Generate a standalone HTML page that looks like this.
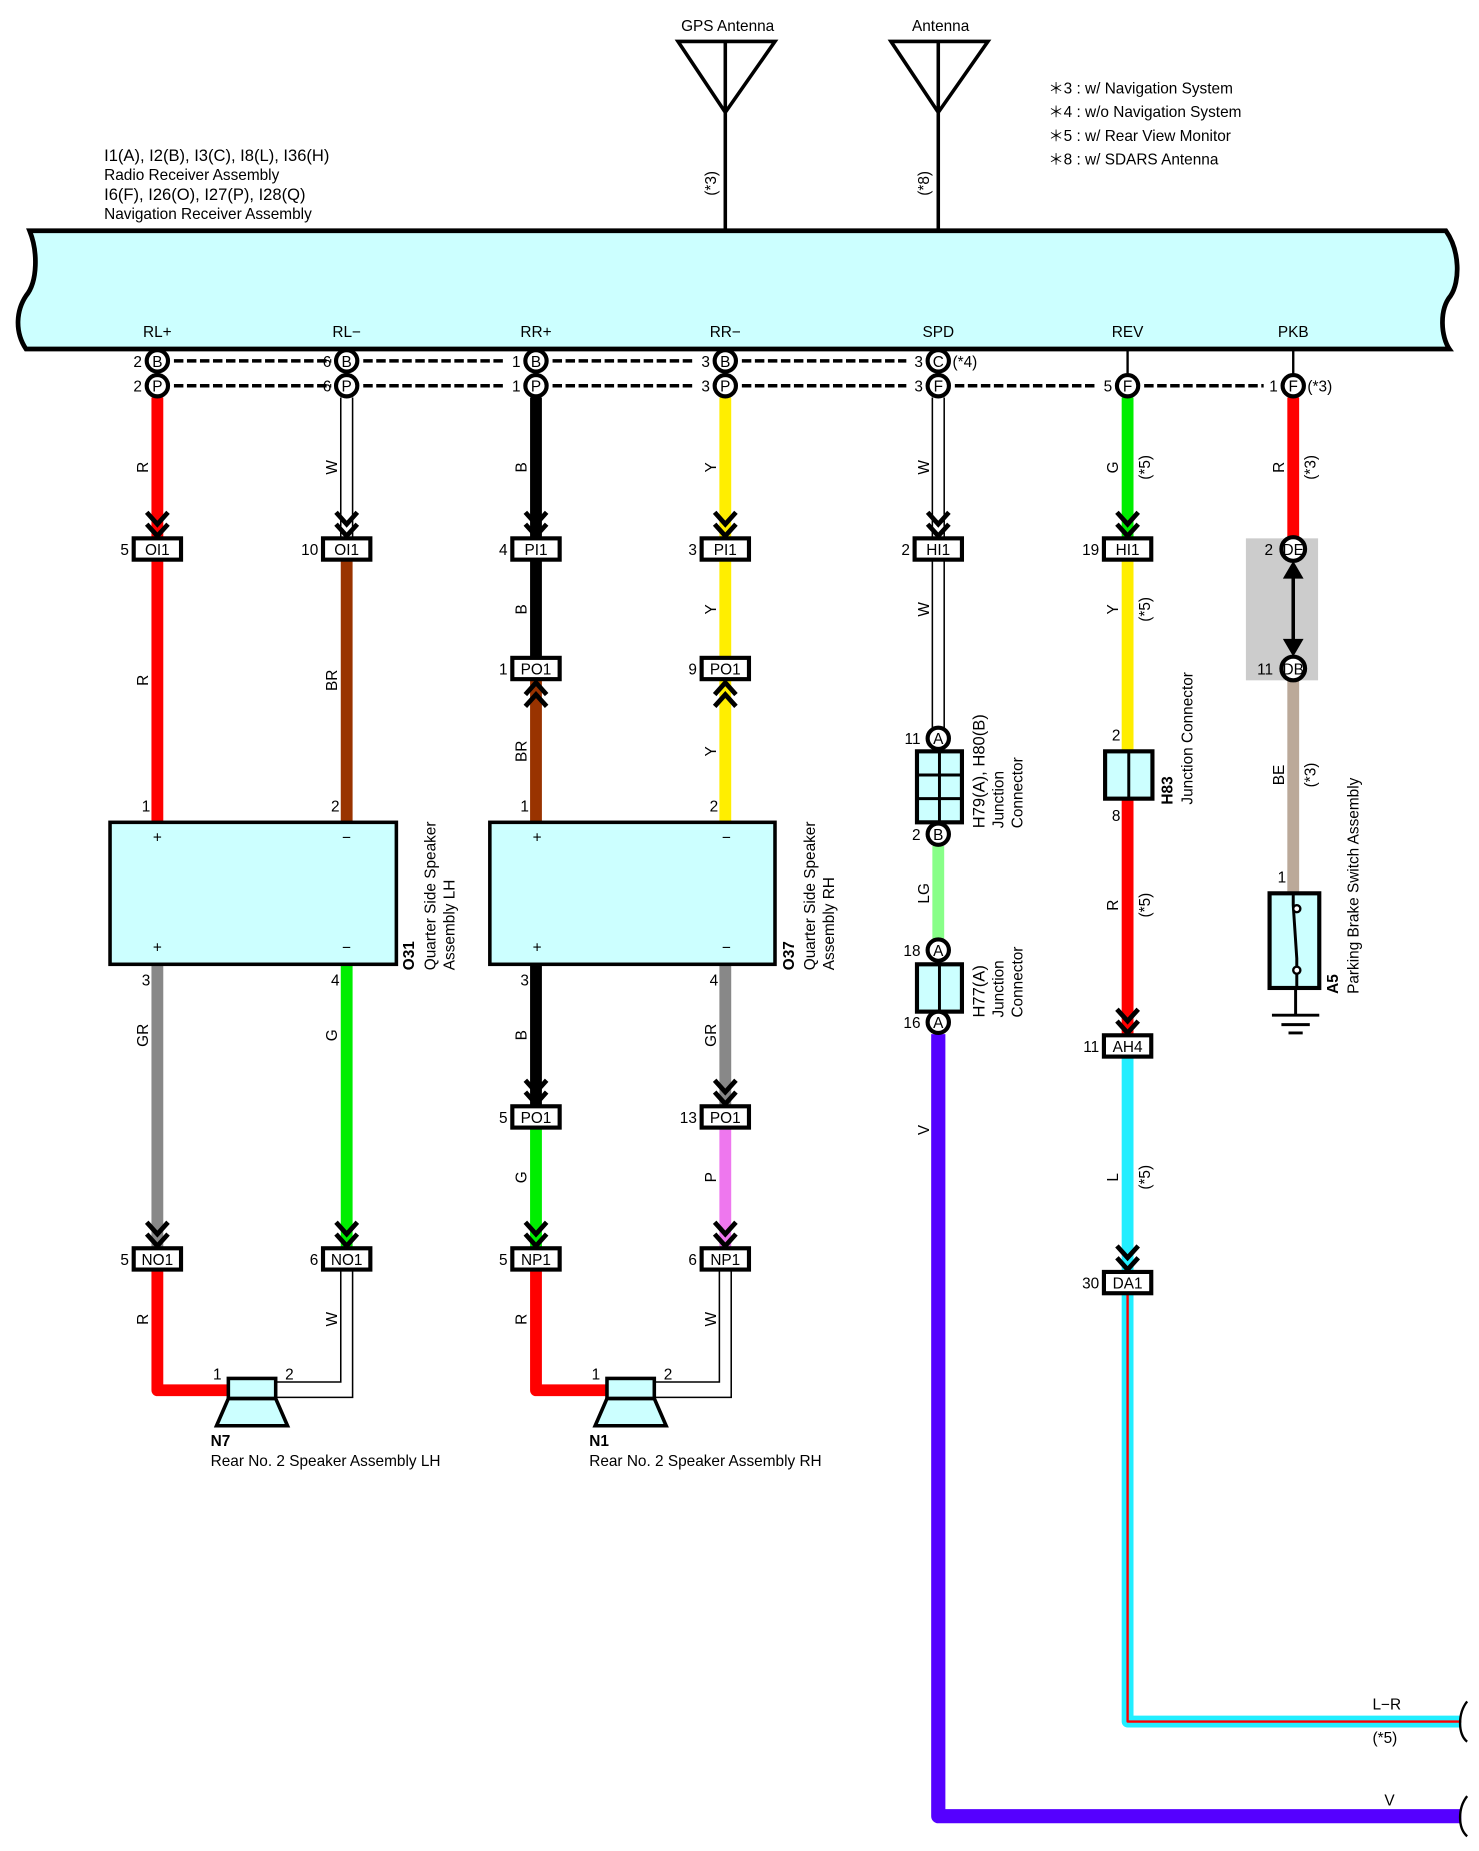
<!DOCTYPE html>
<html><head><meta charset="utf-8"><style>
html,body{margin:0;padding:0;background:#fff}
svg{display:block}
text{font-family:"Liberation Sans",sans-serif;font-size:13px;fill:#000}
.b{font-weight:bold}
.c{text-anchor:middle}
.e{text-anchor:end}
</style></head><body>
<svg width="1479" height="1851" viewBox="0 0 1250 1564.4" xmlns="http://www.w3.org/2000/svg">
<g fill="none" stroke="#000" stroke-width="3">
<path d="M573,35 H655 L613,95 Z M613,35 V195"/>
<path d="M753,35 H835 L793,95 Z M793,35 V195"/>
</g>
<text x="615" y="26" class="c">GPS Antenna</text>
<text x="795" y="26" class="c">Antenna</text>
<text transform="translate(605,155) rotate(-90)" class="c">(*3)</text>
<text transform="translate(785,155) rotate(-90)" class="c">(*8)</text>
<text x="886" y="79">＊3 : w/ Navigation System</text>
<text x="886" y="99">＊4 : w/o Navigation System</text>
<text x="886" y="119">＊5 : w/ Rear View Monitor</text>
<text x="886" y="139">＊8 : w/ SDARS Antenna</text>
<text x="88" y="136" style="font-size:14px">I1(A), I2(B), I3(C), I8(L), I36(H)</text>
<text x="88" y="152">Radio Receiver Assembly</text>
<text x="88" y="169" style="font-size:14px">I6(F), I26(O), I27(P), I28(Q)</text>
<text x="88" y="185">Navigation Receiver Assembly</text>
<path d="M25,195 L1222,195 C1234,212 1234,238 1226,250 C1216,262 1218,285 1225,295 L22,295 C12,280 14,262 22,250 C32,238 32,212 25,195 Z" fill="#ccffff" stroke="#000" stroke-width="4"/>
<text x="133" y="285" class="c">RL+</text><text x="293" y="285" class="c">RL−</text>
<text x="453" y="285" class="c">RR+</text><text x="613" y="285" class="c">RR−</text>
<text x="793" y="285" class="c">SPD</text><text x="953" y="285" class="c">REV</text>
<text x="1093" y="285" class="c">PKB</text>
<g stroke="#000" stroke-width="3" stroke-dasharray="8,3">
<path d="M147,305H280M307,305H427M467,305H588M627,305H766"/>
<path d="M147,326H280M307,326H427M467,326H588M627,326H766M807,326H928M967,326H1068"/>
</g>
<path d="M953,295V317M1093,295V317" stroke="#000" stroke-width="2"/>
<g fill="none" stroke-width="10" stroke-linejoin="round">
<path d="M133,336V455M133,474V695" stroke="#ff0000"/>
<path d="M133,815V1055" stroke="#888"/>
<path d="M133,1074V1175H193" stroke="#ff0000"/>
<path d="M293,474V695" stroke="#993300"/>
<path d="M293,815V1055" stroke="#00ee00"/>
<path d="M453,336V455M453,474V556M453,815V935" stroke="#000"/>
<path d="M453,574V695" stroke="#993300"/>
<path d="M453,954V1055" stroke="#00ee00"/>
<path d="M453,1074V1175H513" stroke="#ff0000"/>
<path d="M613,336V455M613,474V556M613,574V695" stroke="#ffee00"/>
<path d="M613,815V935" stroke="#888"/>
<path d="M613,954V1055" stroke="#ee77ee"/>
<path d="M793,715V795" stroke="#88ff88"/>
<path d="M793,874V1535H1235" stroke="#5500ff" stroke-width="12"/>
<path d="M953,336V455" stroke="#00ee00"/>
<path d="M953,474V635" stroke="#ffee00"/>
<path d="M953,675V875" stroke="#ff0000"/>
<path d="M953,894V1075" stroke="#22eeff"/>
<path d="M953,1094V1455H1235" stroke="#22eeff"/>
<path d="M953,1094V1455H1235" stroke="#ff0000" stroke-width="2"/>
<path d="M1093,336V455" stroke="#ff0000"/>
<path d="M1093,575V755" stroke="#bba999"/>
</g>
<g fill="none" stroke="#000" stroke-width="1.3">
<path d="M288,336V455M298,336V455"/>
<path d="M788,336V455M798,336V455M788,474V615M798,474V615"/>
<path d="M288,1074V1168H233M298,1074V1181H233"/>
<path d="M608,1074V1168H553M618,1074V1181H553"/>
</g>
<g fill="none" stroke="#000" stroke-width="4">
<path d="M124,433L133,443L142,433M124,443L133,453L142,443"/>
<path d="M284,433L293,443L302,433M284,443L293,453L302,443"/>
<path d="M444,433L453,443L462,433M444,443L453,453L462,443"/>
<path d="M604,433L613,443L622,433M604,443L613,453L622,443"/>
<path d="M784,433L793,443L802,433M784,443L793,453L802,443"/>
<path d="M944,433L953,443L962,433M944,443L953,453L962,443"/>
<path d="M124,1033L133,1043L142,1033M124,1043L133,1053L142,1043"/>
<path d="M284,1033L293,1043L302,1033M284,1043L293,1053L302,1043"/>
<path d="M444,1033L453,1043L462,1033M444,1043L453,1053L462,1043"/>
<path d="M604,1033L613,1043L622,1033M604,1043L613,1053L622,1043"/>
<path d="M444,913L453,923L462,913M444,923L453,933L462,923"/>
<path d="M604,913L613,923L622,913M604,923L613,933L622,923"/>
<path d="M944,853L953,863L962,853M944,863L953,873L962,863"/>
<path d="M944,1053L953,1063L962,1053M944,1063L953,1073L962,1063"/>
<path d="M444,587L453,577L462,587M444,597L453,587L462,597"/>
<path d="M604,587L613,577L622,587M604,597L613,587L622,597"/>
</g>
<g fill="#fff" stroke="#000" stroke-width="3.5">
<circle cx="133" cy="305" r="9"/><circle cx="133" cy="326" r="9"/>
<circle cx="293" cy="305" r="9"/><circle cx="293" cy="326" r="9"/>
<circle cx="453" cy="305" r="9"/><circle cx="453" cy="326" r="9"/>
<circle cx="613" cy="305" r="9"/><circle cx="613" cy="326" r="9"/>
<circle cx="793" cy="305" r="9"/><circle cx="793" cy="326" r="9"/>
<circle cx="953" cy="326" r="9"/><circle cx="1093" cy="326" r="9"/>
</g>
<g style="font-size:12px">
<text x="133" y="310" class="c">B</text><text x="133" y="331" class="c">P</text>
<text x="293" y="310" class="c">B</text><text x="293" y="331" class="c">P</text>
<text x="453" y="310" class="c">B</text><text x="453" y="331" class="c">P</text>
<text x="613" y="310" class="c">B</text><text x="613" y="331" class="c">P</text>
<text x="793" y="310" class="c">C</text><text x="793" y="331" class="c">F</text>
<text x="953" y="331" class="c">F</text><text x="1093" y="331" class="c">F</text>
</g>
<text x="120" y="310" class="e">2</text><text x="120" y="331" class="e">2</text>
<text x="280" y="310" class="e">6</text><text x="280" y="331" class="e">6</text>
<text x="440" y="310" class="e">1</text><text x="440" y="331" class="e">1</text>
<text x="600" y="310" class="e">3</text><text x="600" y="331" class="e">3</text>
<text x="780" y="310" class="e">3</text><text x="780" y="331" class="e">3</text>
<text x="940" y="331" class="e">5</text><text x="1080" y="331" class="e">1</text>
<text x="805" y="310">(*4)</text><text x="1105" y="331">(*3)</text>
<g fill="#ccffff" stroke="#000" stroke-width="3">
<rect x="93" y="695" width="242" height="120"/>
<rect x="414" y="695" width="241" height="120"/>
</g>
<text x="133" y="712" class="c">+</text><text x="293" y="712" class="c">−</text>
<text x="133" y="805" class="c">+</text><text x="293" y="805" class="c">−</text>
<text x="454" y="712" class="c">+</text><text x="614" y="712" class="c">−</text>
<text x="454" y="805" class="c">+</text><text x="614" y="805" class="c">−</text>
<text x="127" y="686" class="e">1</text><text x="287" y="686" class="e">2</text>
<text x="447" y="686" class="e">1</text><text x="607" y="686" class="e">2</text>
<text x="127" y="833" class="e">3</text><text x="287" y="833" class="e">4</text>
<text x="447" y="833" class="e">3</text><text x="607" y="833" class="e">4</text>
<text transform="translate(350,820) rotate(-90)" class="b">O31</text>
<text transform="translate(368,820) rotate(-90)">Quarter Side Speaker</text>
<text transform="translate(384,820) rotate(-90)">Assembly LH</text>
<text transform="translate(671,820) rotate(-90)" class="b">O37</text>
<text transform="translate(689,820) rotate(-90)">Quarter Side Speaker</text>
<text transform="translate(705,820) rotate(-90)">Assembly RH</text>
<g fill="#fff" stroke="#000" stroke-width="3.5">
<rect x="113" y="455" width="40" height="18"/><rect x="273" y="455" width="40" height="18"/>
<rect x="433" y="455" width="40" height="18"/><rect x="593" y="455" width="40" height="18"/>
<rect x="773" y="455" width="40" height="18"/><rect x="933" y="455" width="40" height="18"/>
<rect x="433" y="556" width="40" height="18"/><rect x="593" y="556" width="40" height="18"/>
<rect x="433" y="935" width="40" height="18"/><rect x="593" y="935" width="40" height="18"/>
<rect x="113" y="1055" width="40" height="18"/><rect x="273" y="1055" width="40" height="18"/>
<rect x="433" y="1055" width="40" height="18"/><rect x="593" y="1055" width="40" height="18"/>
<rect x="933" y="875" width="40" height="18"/><rect x="933" y="1075" width="40" height="18"/>
</g>
<g style="font-size:12px">
<text x="133" y="469" class="c">OI1</text><text x="293" y="469" class="c">OI1</text>
<text x="453" y="469" class="c">PI1</text><text x="613" y="469" class="c">PI1</text>
<text x="793" y="469" class="c">HI1</text><text x="953" y="469" class="c">HI1</text>
<text x="453" y="570" class="c">PO1</text><text x="613" y="570" class="c">PO1</text>
<text x="453" y="949" class="c">PO1</text><text x="613" y="949" class="c">PO1</text>
<text x="133" y="1069" class="c">NO1</text><text x="293" y="1069" class="c">NO1</text>
<text x="453" y="1069" class="c">NP1</text><text x="613" y="1069" class="c">NP1</text>
<text x="953" y="889" class="c">AH4</text><text x="953" y="1089" class="c">DA1</text>
</g>
<text x="109" y="469" class="e">5</text><text x="269" y="469" class="e">10</text>
<text x="429" y="469" class="e">4</text><text x="589" y="469" class="e">3</text>
<text x="769" y="469" class="e">2</text><text x="929" y="469" class="e">19</text>
<text x="429" y="570" class="e">1</text><text x="589" y="570" class="e">9</text>
<text x="429" y="949" class="e">5</text><text x="589" y="949" class="e">13</text>
<text x="109" y="1069" class="e">5</text><text x="269" y="1069" class="e">6</text>
<text x="429" y="1069" class="e">5</text><text x="589" y="1069" class="e">6</text>
<text x="929" y="889" class="e">11</text><text x="929" y="1089" class="e">30</text>
<text transform="translate(125,395) rotate(-90)" class="c">R</text>
<text transform="translate(285,395) rotate(-90)" class="c">W</text>
<text transform="translate(445,395) rotate(-90)" class="c">B</text>
<text transform="translate(605,395) rotate(-90)" class="c">Y</text>
<text transform="translate(785,395) rotate(-90)" class="c">W</text>
<text transform="translate(945,395) rotate(-90)" class="c">G</text>
<text transform="translate(972,395) rotate(-90)" class="c">(*5)</text>
<text transform="translate(1085,395) rotate(-90)" class="c">R</text>
<text transform="translate(1112,395) rotate(-90)" class="c">(*3)</text>
<text transform="translate(125,575) rotate(-90)" class="c">R</text>
<text transform="translate(285,575) rotate(-90)" class="c">BR</text>
<text transform="translate(445,515) rotate(-90)" class="c">B</text>
<text transform="translate(605,515) rotate(-90)" class="c">Y</text>
<text transform="translate(785,515) rotate(-90)" class="c">W</text>
<text transform="translate(945,515) rotate(-90)" class="c">Y</text>
<text transform="translate(972,515) rotate(-90)" class="c">(*5)</text>
<text transform="translate(445,635) rotate(-90)" class="c">BR</text>
<text transform="translate(605,635) rotate(-90)" class="c">Y</text>
<text transform="translate(785,755) rotate(-90)" class="c">LG</text>
<text transform="translate(945,765) rotate(-90)" class="c">R</text>
<text transform="translate(972,765) rotate(-90)" class="c">(*5)</text>
<text transform="translate(1085,655) rotate(-90)" class="c">BE</text>
<text transform="translate(1112,655) rotate(-90)" class="c">(*3)</text>
<text transform="translate(125,875) rotate(-90)" class="c">GR</text>
<text transform="translate(285,875) rotate(-90)" class="c">G</text>
<text transform="translate(445,875) rotate(-90)" class="c">B</text>
<text transform="translate(605,875) rotate(-90)" class="c">GR</text>
<text transform="translate(785,955) rotate(-90)" class="c">V</text>
<text transform="translate(445,995) rotate(-90)" class="c">G</text>
<text transform="translate(605,995) rotate(-90)" class="c">P</text>
<text transform="translate(945,995) rotate(-90)" class="c">L</text>
<text transform="translate(972,995) rotate(-90)" class="c">(*5)</text>
<text transform="translate(125,1115) rotate(-90)" class="c">R</text>
<text transform="translate(285,1115) rotate(-90)" class="c">W</text>
<text transform="translate(445,1115) rotate(-90)" class="c">R</text>
<text transform="translate(605,1115) rotate(-90)" class="c">W</text>
<g fill="#ccffff" stroke="#000" stroke-width="3.5">
<rect x="775" y="635" width="38" height="60"/>
<rect x="775" y="815" width="38" height="40"/>
<rect x="934" y="635" width="40" height="40"/>
</g>
<path d="M794,635V695M775,655H813M775,675H813M794,815V855M954,635V675" stroke="#000" stroke-width="2.5"/>
<g fill="#fff" stroke="#000" stroke-width="3.5">
<circle cx="793" cy="624" r="9"/><circle cx="793" cy="705" r="9"/>
<circle cx="793" cy="803" r="9"/><circle cx="793" cy="864" r="9"/>
</g>
<g style="font-size:12px">
<text x="793" y="629" class="c">A</text><text x="793" y="710" class="c">B</text>
<text x="793" y="808" class="c">A</text><text x="793" y="869" class="c">A</text>
</g>
<text x="778" y="629" class="e">11</text><text x="778" y="710" class="e">2</text>
<text x="778" y="808" class="e">18</text><text x="778" y="869" class="e">16</text>
<text x="947" y="626" class="e">2</text><text x="947" y="694" class="e">8</text>
<text transform="translate(832,700) rotate(-90)" style="font-size:14px">H79(A), H80(B)</text>
<text transform="translate(848,700) rotate(-90)">Junction</text>
<text transform="translate(864,700) rotate(-90)">Connector</text>
<text transform="translate(832,860) rotate(-90)" style="font-size:14px">H77(A)</text>
<text transform="translate(848,860) rotate(-90)">Junction</text>
<text transform="translate(864,860) rotate(-90)">Connector</text>
<text transform="translate(991,680) rotate(-90)" class="b">H83</text>
<text transform="translate(1008,680) rotate(-90)">Junction Connector</text>
<rect x="1053" y="455" width="61" height="120" fill="#cccccc"/>
<g fill="#fff" stroke="#000" stroke-width="3.5">
<circle cx="1093" cy="464" r="10"/><circle cx="1093" cy="565" r="10"/>
</g>
<path d="M1093,480V549" stroke="#000" stroke-width="3"/>
<path d="M1086,488L1093,476L1100,488ZM1086,541L1093,553L1100,541Z" fill="#000" stroke="#000" stroke-width="2"/>
<g style="font-size:12px">
<text x="1093" y="469" class="c">DE</text><text x="1093" y="570" class="c">DB</text>
</g>
<text x="1076" y="469" class="e">2</text><text x="1076" y="570" class="e">11</text>
<text x="1087" y="746" class="e">1</text>
<rect x="1073" y="755" width="42" height="80" fill="#ccffff" stroke="#000" stroke-width="3.5"/>
<path d="M1093,755V765L1096,810V835" fill="none" stroke="#000" stroke-width="2.5"/>
<circle cx="1096" cy="768" r="3" fill="#fff" stroke="#000" stroke-width="2"/>
<circle cx="1096" cy="820" r="3" fill="#fff" stroke="#000" stroke-width="2"/>
<path d="M1095,835V857M1075,858H1115M1083,866H1107M1089,873H1101" stroke="#000" stroke-width="2.5"/>
<text transform="translate(1131,840) rotate(-90)" class="b">A5</text>
<text transform="translate(1148,840) rotate(-90)">Parking Brake Switch Assembly</text>
<g fill="#ccffff" stroke="#000" stroke-width="3">
<rect x="193" y="1165" width="40" height="17"/>
<path d="M193,1182H233L243,1205H183Z"/>
<rect x="513" y="1165" width="40" height="17"/>
<path d="M513,1182H553L563,1205H503Z"/>
</g>
<text x="180" y="1166">1</text><text x="241" y="1166">2</text>
<text x="500" y="1166">1</text><text x="561" y="1166">2</text>
<text x="178" y="1222" class="b">N7</text>
<text x="178" y="1239">Rear No. 2 Speaker Assembly LH</text>
<text x="498" y="1222" class="b">N1</text>
<text x="498" y="1239">Rear No. 2 Speaker Assembly RH</text>
<path d="M1240,1438 C1232,1448 1232,1466 1240,1472 M1240,1518 C1232,1528 1232,1545 1240,1552" fill="none" stroke="#000" stroke-width="2"/>
<text x="1160" y="1445">L−R</text>
<text x="1160" y="1473">(*5)</text>
<text x="1170" y="1526">V</text>
</svg>
</body></html>
